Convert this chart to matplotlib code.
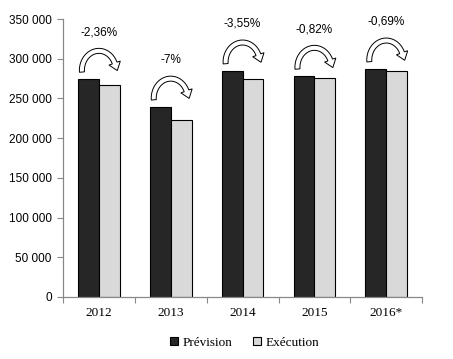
import matplotlib
matplotlib.use("Agg")
import matplotlib.pyplot as plt
from matplotlib.patches import Polygon
from matplotlib.transforms import ScaledTranslation, Affine2D
from matplotlib.ticker import FuncFormatter
import numpy as np

# Data
years = ["2012", "2013", "2014", "2015", "2016*"]
prevision = [274000, 239000, 284500, 277800, 287000]
execution = [267500, 222300, 274400, 275500, 285000]
variations = ["-2,36%", "-7%", "-3,55%", "-0,82%", "-0,69%"]

fig = plt.figure(figsize=(4.53, 3.59), dpi=100)
ax = fig.add_axes([0.139, 0.173, 0.793, 0.774])

x = np.arange(len(years))
w = 0.29
ax.bar(x - w / 2, prevision, w, color="#262626", edgecolor="black", linewidth=0.8, label="Prévision")
ax.bar(x + w / 2, execution, w, color="#d9d9d9", edgecolor="black", linewidth=0.8, label="Exécution")

ax.set_xlim(-0.5, len(years) - 0.5)
ax.set_ylim(0, 350000)
ax.set_yticks(range(0, 350001, 50000))
ax.yaxis.set_major_formatter(FuncFormatter(lambda v, p: f"{int(v):,}".replace(",", " ")))
for lab in ax.get_yticklabels():
    lab.set_family("Liberation Sans")
    lab.set_fontsize(8.5)

ax.set_xticks(x)
ax.set_xticklabels(years, family="Liberation Serif", fontsize=9.5)
ax.set_xticks(np.arange(-0.5, len(years)), minor=True)
ax.tick_params(axis="x", which="major", length=0, pad=7)
ax.tick_params(axis="x", which="minor", length=4, color="#888888", width=0.8)
ax.tick_params(axis="y", length=4, color="#888888", width=0.8, pad=4)

for s in ["top", "right"]:
    ax.spines[s].set_visible(False)
for s in ["left", "bottom"]:
    ax.spines[s].set_color("#888888")
    ax.spines[s].set_linewidth(0.9)


def curved_arrow_outline(rx=17.0, ry=19.5, tail=5.0, head_w=12.0, head_l=8.0, end_deg=22.0):
    """Hollow half-ellipse arrow outline in pixel units, centred on (0, 0)."""
    th = np.radians(np.linspace(185, end_deg, 50))
    outer = np.c_[(rx + tail / 2) * np.cos(th), (ry + tail / 2) * np.sin(th)]
    inner = np.c_[(rx - tail / 2) * np.cos(th), (ry - tail / 2) * np.sin(th)]
    te = np.radians(end_deg)
    p = np.array([rx * np.cos(te), ry * np.sin(te)])
    tang = np.array([rx * np.sin(te), -ry * np.cos(te)])
    tang /= np.linalg.norm(tang)
    nrm = np.array([-tang[1], tang[0]])
    if np.dot(nrm, p) < 0:
        nrm = -nrm
    wing_out = p + nrm * head_w / 2
    wing_in = p - nrm * head_w / 2
    tip = p + tang * head_l
    return np.vstack([outer, wing_out, tip, wing_in, inner[::-1]])


shape = curved_arrow_outline()
for i in range(len(years)):
    base = prevision[i]
    trans = Affine2D().scale(0.01) + fig.dpi_scale_trans + ScaledTranslation(i, base, ax.transData)
    arr = Polygon(shape + np.array([0.0, 9.0]), closed=True, transform=trans,
                  fc="white", ec="black", lw=0.7, clip_on=False)
    ax.add_patch(arr)
    ax.annotate(variations[i], (i, base), xytext=(0, 34), textcoords="offset points",
                ha="center", va="center", fontsize=8.5, family="Liberation Sans")

fig.legend(loc="center", bbox_to_anchor=(0.54, 0.045), ncol=2, frameon=False,
           prop={"family": "Liberation Serif", "size": 9.5},
           handlelength=0.6, handleheight=0.6, handletextpad=0.3, columnspacing=1.6)

fig.savefig("out.png", dpi=100)
